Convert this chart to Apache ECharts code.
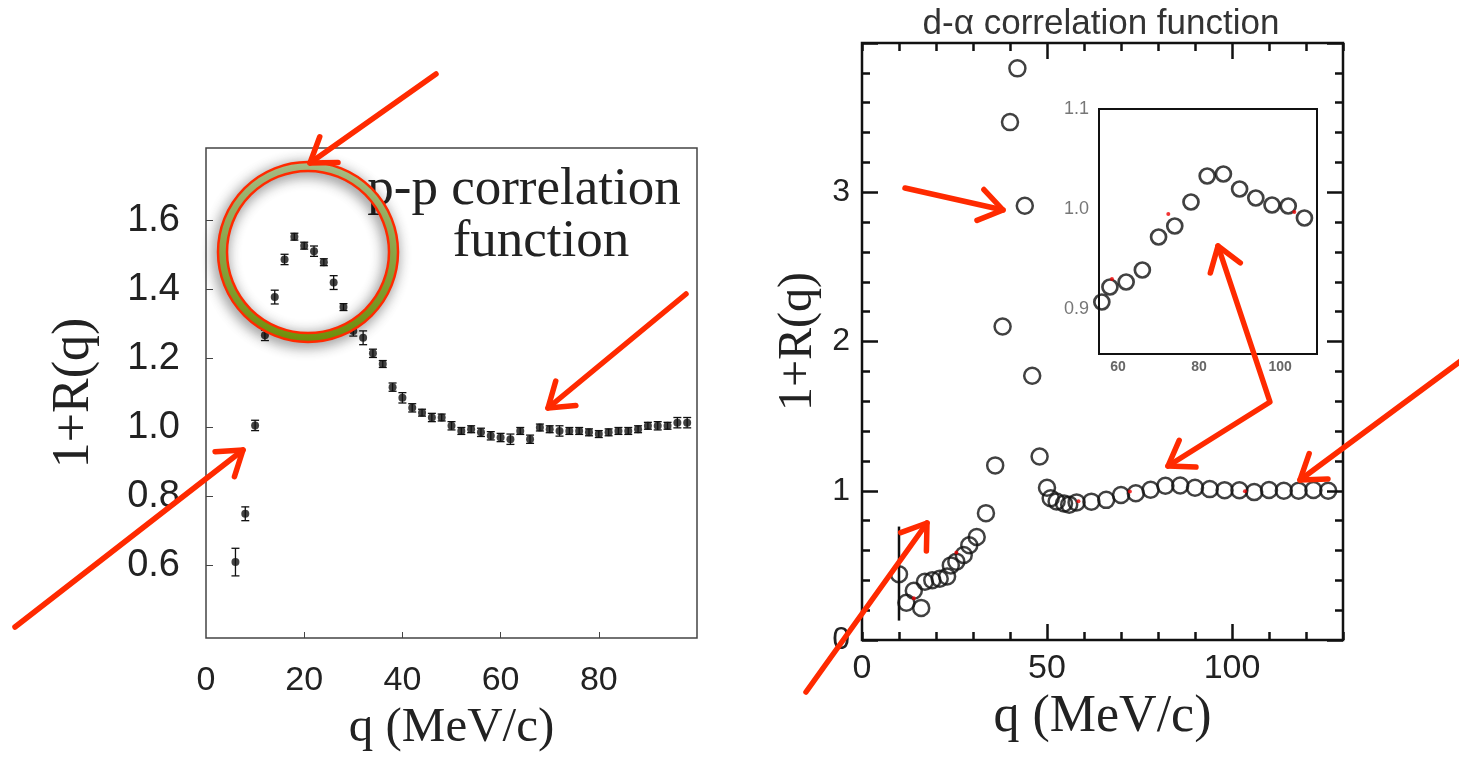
<!DOCTYPE html>
<html>
<head>
<meta charset="utf-8">
<script src="https://cdn.jsdelivr.net/npm/echarts@6/dist/echarts.min.js"></script>
<style>
  html, body { margin: 0; padding: 0; background: #fff; }
  #chart { width: 1459px; height: 758px; }
</style>
</head>
<body>
<div id="chart"></div>
<script>
// p-p correlation function (left panel)
const ppQ = [6, 8, 10, 12, 14, 16, 18, 20, 22, 24,
             26, 28, 30, 32, 34, 36, 38, 40, 42, 44,
             46, 48, 50, 52, 54, 56, 58, 60, 62, 64,
             66, 68, 70, 72, 74, 76, 78, 80, 82, 84,
             86, 88, 90, 92, 94, 96, 98];
const ppR = [0.61, 0.75, 1.006, 1.267, 1.378, 1.487, 1.553, 1.527, 1.511, 1.479,
             1.42, 1.349, 1.28, 1.26, 1.215, 1.184, 1.117, 1.086, 1.057, 1.043,
             1.029, 1.029, 1.005, 0.99, 0.995, 0.986, 0.976, 0.971, 0.966, 0.99,
             0.966, 1.0, 0.995, 0.99, 0.99, 0.99, 0.986, 0.981, 0.986, 0.99,
             0.99, 0.995, 1.005, 1.005, 1.005, 1.014, 1.014];
const ppErr = [0.04, 0.02, 0.015, 0.015, 0.02, 0.015, 0.01, 0.01, 0.015, 0.01,
               0.02, 0.01, 0.015, 0.02, 0.012, 0.01, 0.012, 0.015, 0.012, 0.01,
               0.012, 0.01, 0.012, 0.01, 0.01, 0.012, 0.012, 0.012, 0.015, 0.01,
               0.012, 0.01, 0.01, 0.015, 0.01, 0.01, 0.01, 0.01, 0.01, 0.01,
               0.01, 0.01, 0.01, 0.012, 0.01, 0.015, 0.015];
const ppXLabels = [0, 20, 40, 60, 80];
const ppXTicks = [20, 40, 60, 80];
const ppYLabels = [0.6, 0.8, 1.0, 1.2, 1.4, 1.6];

// d-alpha correlation function (right panel)
const daQ = [10, 12, 14, 16, 17, 19, 21, 23, 24, 25.5,
             27.5, 29, 31, 33.5, 36, 38, 40, 42, 44, 46,
             48, 50, 51, 52.6, 54.6, 56, 58, 62, 66, 70,
             74, 78, 82, 86, 90, 94, 98, 102, 106, 110,
             114, 118, 122, 126];
const daR = [0.44, 0.25, 0.33, 0.215, 0.39, 0.40, 0.41, 0.425, 0.50, 0.525,
             0.57, 0.635, 0.69, 0.85, 1.17, 2.10, 3.47, 3.83, 2.91, 1.77,
             1.23, 1.02, 0.95, 0.928, 0.915, 0.907, 0.922, 0.927, 0.939, 0.972,
             0.983, 1.007, 1.033, 1.035, 1.02, 1.011, 1.004, 1.003, 0.991, 1.005,
             1.0, 1.0, 1.005, 1.0];
const daErrQ = [10];
const daErrR = [0.445];
const daErrE = [0.315];
const redQ = [14, 25.5, 58.5, 72.4, 103.5];
const redR = [0.28, 0.586, 0.93, 0.995, 0.997];
const daXLabels = [0, 50, 100];
const daXMajor = [50, 100];
const daYLabels = [0, 1, 2, 3];
const insetXTicks = [60, 80, 100];
const insetYLabels = [0.9, 1.0, 1.1];
const insetYTicks = [0.875, 0.9, 0.925, 0.95, 0.975, 1.0, 1.025, 1.05, 1.075];

const SANS = 'Liberation Sans';
const SERIF = 'Liberation Serif';
const RED = '#ff2a00';

const chart = echarts.init(document.getElementById('chart'));

function errBars(capW, lw) {
    return function (params, api) {
        const x = api.value(0), y = api.value(1), e = api.value(2);
        const top = api.coord([x, y + e]);
        const bot = api.coord([x, y - e]);
        const st = { stroke: '#111', lineWidth: lw };
        const kids = [{ type: 'line', shape: { x1: top[0], y1: top[1], x2: bot[0], y2: bot[1] }, style: st }];
        if (capW > 0) {
            kids.push({ type: 'line', shape: { x1: top[0] - capW, y1: top[1], x2: top[0] + capW, y2: top[1] }, style: st });
            kids.push({ type: 'line', shape: { x1: bot[0] - capW, y1: bot[1], x2: bot[0] + capW, y2: bot[1] }, style: st });
        }
        return { type: 'group', children: kids };
    };
}

// arrows with open heads
function arrow(pts, heads) {
    const st = { stroke: RED, lineWidth: 5.5, lineCap: 'round', lineJoin: 'round', fill: null };
    const els = [{ type: 'polyline', shape: { points: pts }, style: st, z: 100 }];
    const head = (from, to) => {
        const a = Math.atan2(to[1] - from[1], to[0] - from[0]);
        const L = 28, w = 0.6;
        return {
            type: 'polyline', z: 100, style: st,
            shape: { points: [
                [to[0] - L * Math.cos(a - w), to[1] - L * Math.sin(a - w)],
                to,
                [to[0] - L * Math.cos(a + w), to[1] - L * Math.sin(a + w)],
            ] },
        };
    };
    const n = pts.length;
    if (heads.end) els.push(head(pts[n - 2], pts[n - 1]));
    if (heads.start) els.push(head(pts[1], pts[0]));
    return els;
}

const tickLbl = (size) => ({ fontFamily: SANS, fontSize: size, color: '#222' });

const option = {
    animation: false,
    backgroundColor: '#fff',
    grid: [
        { left: 206, top: 148, width: 491, height: 494, show: true, borderColor: '#444', borderWidth: 1.5 },
        { left: 862, top: 43, width: 481, height: 597, show: true, borderColor: '#111', borderWidth: 2.5 },
        { left: 1099, top: 109, width: 218, height: 245, show: true, borderColor: '#111', borderWidth: 2, backgroundColor: '#fff', z: 5 },
    ],
    xAxis: [
        // 0: p-p
        {
            gridIndex: 0, type: 'value', min: 0, max: 100,
            axisLine: { show: false, onZero: false },
            axisTick: { inside: true, length: 6, customValues: ppXTicks, lineStyle: { color: '#444' } },
            axisLabel: { customValues: ppXLabels, margin: 26, ...tickLbl(34) },
            splitLine: { show: false },
            name: 'q (MeV/c)', nameLocation: 'middle', nameGap: 66,
            nameTextStyle: { fontFamily: SERIF, fontSize: 49, color: '#222' },
        },
        // 1: d-alpha bottom minor
        {
            gridIndex: 1, type: 'value', min: 0, max: 130, interval: 10, position: 'bottom',
            axisLine: { show: false, onZero: false },
            axisTick: { inside: true, length: 8, lineStyle: { color: '#111', width: 2.5 } },
            axisLabel: { customValues: daXLabels, margin: 12, ...tickLbl(34) },
            splitLine: { show: false },
            name: 'q (MeV/c)', nameLocation: 'middle', nameGap: 48,
            nameTextStyle: { fontFamily: SERIF, fontSize: 52, color: '#222' },
        },
        // 2: d-alpha bottom major
        {
            gridIndex: 1, type: 'value', min: 0, max: 130, position: 'bottom',
            axisLine: { show: false, onZero: false },
            axisTick: { inside: true, length: 16, customValues: daXMajor, lineStyle: { color: '#111', width: 2.5 } },
            axisLabel: { show: false }, splitLine: { show: false },
        },
        // 3: d-alpha top minor
        {
            gridIndex: 1, type: 'value', min: 0, max: 130, interval: 10, position: 'top',
            axisLine: { show: false, onZero: false },
            axisTick: { inside: true, length: 8, lineStyle: { color: '#111', width: 2.5 } },
            axisLabel: { show: false }, splitLine: { show: false },
        },
        // 4: d-alpha top major
        {
            gridIndex: 1, type: 'value', min: 0, max: 130, position: 'top',
            axisLine: { show: false, onZero: false },
            axisTick: { inside: true, length: 16, customValues: daXMajor, lineStyle: { color: '#111', width: 2.5 } },
            axisLabel: { show: false }, splitLine: { show: false },
        },
        // 5: inset bottom
        {
            gridIndex: 2, type: 'value', min: 55.3, max: 109.1, position: 'bottom',
            axisLine: { show: false, onZero: false },
            axisTick: { inside: true, length: 6, customValues: insetXTicks, lineStyle: { color: '#111', width: 2 } },
            axisLabel: { customValues: insetXTicks, margin: 6, fontFamily: SANS, fontSize: 14, fontWeight: 'bold', color: '#666' },
            splitLine: { show: false },
        },
        // 6: inset top
        {
            gridIndex: 2, type: 'value', min: 55.3, max: 109.1, position: 'top',
            axisLine: { show: false, onZero: false },
            axisTick: { inside: true, length: 6, customValues: insetXTicks, lineStyle: { color: '#111', width: 2 } },
            axisLabel: { show: false }, splitLine: { show: false },
        },
    ],
    yAxis: [
        // 0: p-p
        {
            gridIndex: 0, type: 'value', min: 0.39, max: 1.81,
            axisLine: { show: false, onZero: false },
            axisTick: { inside: true, length: 7, customValues: ppYLabels, lineStyle: { color: '#444' } },
            axisLabel: { customValues: ppYLabels, margin: 26, formatter: (v) => v.toFixed(1), ...tickLbl(38) },
            splitLine: { show: false },
            name: '1+R(q)', nameLocation: 'middle', nameGap: 106, nameRotate: 90,
            nameTextStyle: { fontFamily: SERIF, fontSize: 52, color: '#222' },
        },
        // 1: d-alpha left
        {
            gridIndex: 1, type: 'value', min: 0, max: 4, interval: 1, position: 'left',
            axisLine: { show: false, onZero: false },
            axisTick: { inside: true, length: 16, lineStyle: { color: '#111', width: 2.5 } },
            minorTick: { show: true, splitNumber: 5, length: 8, lineStyle: { color: '#111', width: 2.5 } },
            axisLabel: { customValues: daYLabels, margin: 12, ...tickLbl(32) },
            splitLine: { show: false },
            name: '1+R(q)', nameLocation: 'middle', nameGap: 40, nameRotate: 90,
            nameTextStyle: { fontFamily: SERIF, fontSize: 48, color: '#222' },
        },
        // 2: d-alpha right
        {
            gridIndex: 1, type: 'value', min: 0, max: 4, interval: 1, position: 'right',
            axisLine: { show: false, onZero: false },
            axisTick: { inside: true, length: 16, lineStyle: { color: '#111', width: 2.5 } },
            minorTick: { show: true, splitNumber: 5, length: 8, lineStyle: { color: '#111', width: 2.5 } },
            axisLabel: { show: false }, splitLine: { show: false },
        },
        // 3: inset left
        {
            gridIndex: 2, type: 'value', min: 0.855, max: 1.1, position: 'left',
            axisLine: { show: false, onZero: false },
            axisTick: { inside: true, length: 5, customValues: insetYTicks, lineStyle: { color: '#111', width: 2 } },
            axisLabel: { customValues: insetYLabels, margin: 10, formatter: (v) => v.toFixed(1), fontFamily: SANS, fontSize: 18, color: '#777' },
            splitLine: { show: false },
        },
    ],
    series: [
        {
            type: 'custom', xAxisIndex: 0, yAxisIndex: 0,
            renderItem: errBars(4, 1.3),
            data: ppQ.map((q, i) => [q, ppR[i], ppErr[i]]),
            encode: { x: 0, y: 1 }, z: 2,
        },
        {
            type: 'scatter', xAxisIndex: 0, yAxisIndex: 0,
            symbol: 'circle', symbolSize: 8,
            itemStyle: { color: '#111' },
            data: ppQ.map((q, i) => [q, ppR[i]]), z: 3,
        },
        {
            type: 'custom', xAxisIndex: 1, yAxisIndex: 1,
            renderItem: errBars(0, 2.5),
            data: daErrQ.map((q, i) => [q, daErrR[i], daErrE[i]]),
            encode: { x: 0, y: 1 },
        },
        {
            type: 'scatter', xAxisIndex: 1, yAxisIndex: 1,
            symbol: 'circle', symbolSize: 16,
            itemStyle: { color: 'transparent', borderColor: '#111', borderWidth: 2.5 },
            data: daQ.map((q, i) => [q, daR[i]]),
        },
        {
            type: 'scatter', xAxisIndex: 1, yAxisIndex: 1,
            symbol: 'circle', symbolSize: 4, itemStyle: { color: '#e00' },
            data: redQ.map((q, i) => [q, redR[i]]), z: 4,
        },
        {
            type: 'scatter', xAxisIndex: 5, yAxisIndex: 3, clip: true,
            symbol: 'circle', symbolSize: 15,
            itemStyle: { color: 'transparent', borderColor: '#111', borderWidth: 2.7 },
            data: daQ.map((q, i) => [q, daR[i]]), z: 6,
        },
        {
            type: 'scatter', xAxisIndex: 5, yAxisIndex: 3, clip: true,
            symbol: 'circle', symbolSize: 4, itemStyle: { color: '#e00' },
            data: redQ.map((q, i) => [q, redR[i]]), z: 7,
        },
    ],
    graphic: [
        {
            type: 'text', z: 50,
            style: { text: 'd-α correlation function', x: 1101, y: 24, fontFamily: SANS, fontSize: 35, fill: '#333', textAlign: 'center', textVerticalAlign: 'middle' },
        },
        {
            type: 'text', z: 50,
            style: { text: 'p-p correlation', x: 524, y: 190, fontFamily: SERIF, fontSize: 53, fill: '#222', textAlign: 'center', textVerticalAlign: 'middle' },
        },
        {
            type: 'text', z: 50,
            style: { text: 'function', x: 541, y: 242, fontFamily: SERIF, fontSize: 53, fill: '#222', textAlign: 'center', textVerticalAlign: 'middle' },
        },
        // highlight ring
        {
            type: 'ring', z: 90,
            shape: { cx: 308, cy: 252, r: 90, r0: 81 },
            style: {
                fill: new echarts.graphic.LinearGradient(0, 0, 0, 1, [
                    { offset: 0, color: '#b8d095' },
                    { offset: 1, color: '#7c9e0a' },
                ]),
                stroke: RED, lineWidth: 2.5,
                shadowBlur: 14, shadowColor: 'rgba(0,0,0,0.45)', shadowOffsetX: -2, shadowOffsetY: 3,
            },
        },
        ...arrow([[436, 74], [310, 163]], { end: true }),
        ...arrow([[686, 294], [548, 408]], { end: true }),
        ...arrow([[15, 627], [243, 450]], { end: true }),
        ...arrow([[905, 188], [1003, 210]], { end: true }),
        ...arrow([[806, 692], [927, 523]], { end: true }),
        ...arrow([[1218, 246], [1270, 402], [1168, 466]], { start: true, end: true }),
        ...arrow([[1462, 360], [1300, 480]], { end: true }),
    ],
};

chart.setOption(option);
</script>
</body>
</html>
